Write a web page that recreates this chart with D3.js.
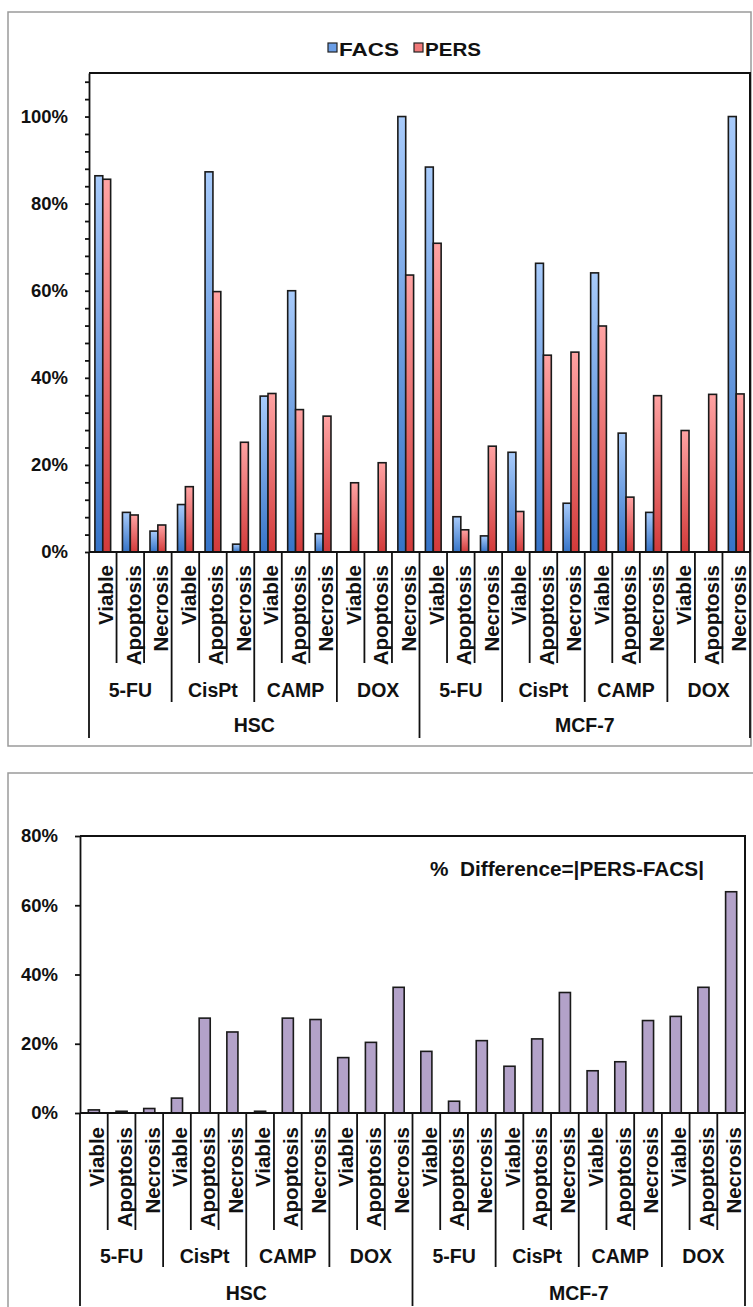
<!DOCTYPE html>
<html lang="en">
<head>
    <meta charset="UTF-8">
    <title>FACS vs PERS</title>
    <script src="https://d3js.org/d3.v7.min.js"></script>
    <style>
        body{ margin:0; background:#fff; }
        svg text{ font-family:"Liberation Sans", Arial, sans-serif; font-weight:bold; fill:#111; }
    </style>
</head>
<body>
<svg width="753" height="1307"></svg>
<script>
    // data (percent)
    const states = ["Viable", "Apoptosis", "Necrosis"];
    const drugs = ["5-FU", "CisPt", "CAMP", "DOX"];
    const cells = ["HSC", "MCF-7"];
    const series = ["FACS", "PERS"];

    const facs = [86.4, 9.1, 4.8, 10.9, 87.3, 1.8, 35.8, 60.0, 4.2, 0, 0, 100,
                  88.4, 8.1, 3.7, 22.9, 66.3, 11.2, 64.1, 27.3, 9.1, 0, 0, 100];
    const pers = [85.6, 8.5, 6.2, 15.0, 59.8, 25.2, 36.4, 32.7, 31.2, 15.9, 20.5, 63.6,
                  70.9, 5.1, 24.3, 9.3, 45.2, 45.9, 51.9, 12.6, 35.9, 27.9, 36.2, 36.3];
    const diff = [0.9, 0.5, 1.3, 4.3, 27.4, 23.4, 0.5, 27.4, 27.0, 16.0, 20.4, 36.3,
                  17.8, 3.4, 20.9, 13.5, 21.4, 34.8, 12.2, 14.8, 26.7, 27.9, 36.3, 63.9];

    const topTicks = d3.range(0, 109, 4);
    const bottomTicks = [0, 20, 40, 60, 80];

    // one entry per bar slot: cell / drug / state
    const slots = [];
    cells.forEach(c => drugs.forEach(d => states.forEach(s => slots.push({cell: c, drug: d, state: s}))));

    let svg = d3.select("svg");

    // gradients for the two series
    const defs = svg.append("defs");
    const grads = {FACS: ["#a8cbfb", "#3674c8"], PERS: ["#ffa3a3", "#d23a3a"]};
    series.forEach(k => {
        const g = defs.append("linearGradient").attr("id", "g" + k)
            .attr("x1", 0).attr("y1", 0).attr("x2", 0).attr("y2", 1);
        g.append("stop").attr("offset", "0%").attr("stop-color", grads[k][0]);
        g.append("stop").attr("offset", "100%").attr("stop-color", grads[k][1]);
    });

    // panel frames
    svg.append("rect").attr("x", 8).attr("y", 12).attr("width", 743).attr("height", 734)
        .attr("fill", "none").attr("stroke", "#9a9a9a").attr("stroke-width", 1.5);
    svg.append("rect").attr("x", 8).attr("y", 773).attr("width", 760).attr("height", 560)
        .attr("fill", "none").attr("stroke", "#9a9a9a").attr("stroke-width", 1.5);

    function categoryAxis(g, x, y0, ends, rotY, lvl2Y, lvl3Y) {
        const r0 = x.range()[0], step = x.step();
        d3.range(0, 25).forEach(i => {
            const yEnd = i % 12 === 0 ? ends[2] : (i % 3 === 0 ? ends[1] : ends[0]);
            g.append("line").attr("x1", r0 + i * step).attr("x2", r0 + i * step)
                .attr("y1", y0).attr("y2", yEnd)
                .attr("stroke", "#111").attr("stroke-width", 1.8);
        });
        g.selectAll("text.lv1").data(slots).enter().append("text").attr("class", "lv1")
            .attr("transform", (d, i) => `translate(${x(i) + x.bandwidth() / 2},${rotY}) rotate(-90)`)
            .attr("text-anchor", "end").attr("dy", "0.5em")
            .style("font-size", "20.5px").text(d => d.state);
        const groups = [];
        cells.forEach(c => drugs.forEach(d => groups.push(d)));
        g.selectAll("text.lv2").data(groups).enter().append("text").attr("class", "lv2")
            .attr("x", (d, k) => r0 + (k * 3 + 1.5) * step).attr("y", lvl2Y)
            .attr("text-anchor", "middle").style("font-size", "19.5px").text(d => d);
        g.selectAll("text.lv3").data(cells).enter().append("text").attr("class", "lv3")
            .attr("x", (d, c) => r0 + (c * 12 + 6) * step).attr("y", lvl3Y)
            .attr("text-anchor", "middle").style("font-size", "19.5px").text(d => d);
    }

    //------------------------------------
    // top chart: FACS vs PERS
    const x0 = d3.scaleBand().domain(d3.range(24)).range([89, 750])
        .paddingInner(0.4286).paddingOuter(0.2143);
    const x1 = d3.scaleBand().domain(series).range([0, x0.bandwidth()]);
    const y = d3.scaleLinear().domain([0, 110]).range([552, 73]);

    const topG = svg.append("g");
    const rows = slots.map((s, i) => ({i: i, FACS: facs[i], PERS: pers[i]}));
    topG.selectAll("g.slot").data(rows).enter().append("g").attr("class", "slot")
        .attr("transform", d => `translate(${x0(d.i)},0)`)
        .selectAll("rect").data(d => series.map(k => ({k: k, v: d[k]})).filter(e => e.v > 0))
        .enter().append("rect")
        .attr("x", e => x1(e.k)).attr("width", x1.bandwidth())
        .attr("y", e => y(e.v)).attr("height", e => y(0) - y(e.v))
        .attr("fill", e => `url(#g${e.k})`)
        .attr("stroke", "#1a1a1a").attr("stroke-width", 1.6);

    // plot frame top/right
    topG.append("path").attr("d", `M89,73H750V552`).attr("fill", "none")
        .attr("stroke", "#111").attr("stroke-width", 2);

    const yAxis = topG.append("g").attr("transform", "translate(89,0)")
        .call(d3.axisLeft(y).tickValues(topTicks).tickSize(4).tickSizeOuter(0).tickPadding(17)
            .tickFormat(d => d % 20 === 0 ? d + "%" : ""));
    yAxis.selectAll("path, line").attr("stroke", "#111").attr("stroke-width", 1.8);
    yAxis.selectAll("text").style("font-size", "18.5px");
    topG.append("line").attr("x1", 89).attr("x2", 750).attr("y1", 552).attr("y2", 552)
        .attr("stroke", "#111").attr("stroke-width", 2);

    categoryAxis(topG, x0, 552, [663, 702, 738], 565, 697, 732);

    // legend
    const leg = svg.append("g");
    const legPos = [{k: "FACS", x: 328, w: 60, fill: "#6b9ee6"}, {k: "PERS", x: 414, w: 56, fill: "#f07878"}];
    legPos.forEach(l => {
        leg.append("rect").attr("x", l.x).attr("y", 43).attr("width", 9).attr("height", 9)
            .attr("fill", l.fill).attr("stroke", "#222").attr("stroke-width", 1.2);
        leg.append("text").attr("x", l.x + 11).attr("y", 56).style("font-size", "19px")
            .attr("textLength", l.w).attr("lengthAdjust", "spacingAndGlyphs").text(l.k);
    });

    //------------------------------------
    // bottom chart: difference
    const xb = d3.scaleBand().domain(d3.range(24)).range([80, 745])
        .paddingInner(0.6).paddingOuter(0.3);
    const yb = d3.scaleLinear().domain([0, 80]).range([1113, 836]);

    const botG = svg.append("g");
    botG.selectAll("rect.diff").data(diff).enter().append("rect").attr("class", "diff")
        .attr("x", (d, i) => xb(i)).attr("width", xb.bandwidth())
        .attr("y", d => yb(d)).attr("height", d => yb(0) - yb(d))
        .attr("fill", "#b3a2c9").attr("stroke", "#1a1a1a").attr("stroke-width", 1.6);

    botG.append("path").attr("d", `M80,836H745V1113`).attr("fill", "none")
        .attr("stroke", "#111").attr("stroke-width", 2);

    const ybAxis = botG.append("g").attr("transform", "translate(80,0)")
        .call(d3.axisLeft(yb).tickValues(bottomTicks).tickSize(5).tickSizeOuter(0).tickPadding(17)
            .tickFormat(d => d + "%"));
    ybAxis.selectAll("path, line").attr("stroke", "#111").attr("stroke-width", 1.8);
    ybAxis.selectAll("text").style("font-size", "18.5px");
    botG.append("line").attr("x1", 80).attr("x2", 745).attr("y1", 1113).attr("y2", 1113)
        .attr("stroke", "#111").attr("stroke-width", 2);

    categoryAxis(botG, xb, 1113, [1230, 1267, 1306], 1127, 1263, 1300);

    botG.append("text").attr("x", 430).attr("y", 876).attr("xml:space", "preserve")
        .style("font-size", "20px").style("white-space", "pre")
        .attr("textLength", 274).attr("lengthAdjust", "spacingAndGlyphs")
        .text("%  Difference=|PERS-FACS|");
</script>
</body>
</html>
